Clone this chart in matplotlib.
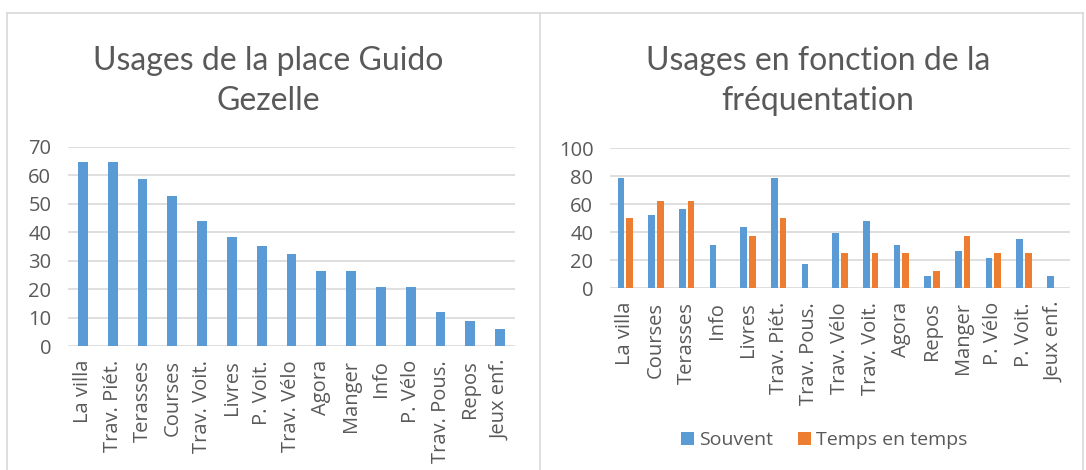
import matplotlib
matplotlib.use("Agg")
import matplotlib.pyplot as plt
from matplotlib.lines import Line2D
import numpy as np

# ---- data ----
left_categories = ["La villa", "Trav. Piét.", "Terasses", "Courses", "Trav. Voit.", "Livres",
                   "P. Voit.", "Trav. Vélo", "Agora", "Manger", "Info", "P. Vélo",
                   "Trav. Pous.", "Repos", "Jeux enf."]
left_values = [64.7, 64.7, 58.8, 52.9, 44.1, 38.2, 35.3, 32.4, 26.5, 26.5, 20.6, 20.6, 11.8, 8.8, 5.9]

right_categories = ["La villa", "Courses", "Terasses", "Info", "Livres", "Trav. Piét.",
                    "Trav. Pous.", "Trav. Vélo", "Trav. Voit.", "Agora", "Repos", "Manger",
                    "P. Vélo", "P. Voit.", "Jeux enf."]
souvent = [78.3, 52.2, 56.5, 30.4, 43.5, 78.3, 17.4, 39.1, 47.8, 30.4, 8.7, 26.1, 21.7, 34.8, 8.7]
temps = [50.0, 62.5, 62.5, 0, 37.5, 50.0, 0, 25.0, 25.0, 25.0, 12.5, 37.5, 25.0, 25.0, 0]

left_title = "Usages de la place Guido\nGezelle"
right_title = "Usages en fonction de la\nfréquentation"
left_yticks = [0, 10, 20, 30, 40, 50, 60, 70]
right_yticks = [0, 20, 40, 60, 80, 100]

BLUE = "#5B9BD5"
ORANGE = "#ED7D31"
GRID = "#D9D9D9"
TXT = "#595959"

plt.rcParams['font.family'] = ['Open Sans', 'DejaVu Sans']

W, H = 1086, 470
fig = plt.figure(figsize=(W / 100, H / 100), dpi=100)

def fx(px):
    return px / W

def fy(py):
    return 1 - py / H

# panel borders
for (x0, y0, x1, y1) in [(7, 13, 1083, 13), (7, 13, 7, 470), (540, 13, 540, 470), (1083, 13, 1083, 470)]:
    fig.add_artist(Line2D([fx(x0), fx(x1)], [fy(y0), fy(y1)], color=GRID, lw=1.2,
                          transform=fig.transFigure))

def style_axes(ax, yticks):
    for s in ax.spines.values():
        s.set_visible(False)
    ax.set_yticks(yticks)
    ax.set_ylim(yticks[0], yticks[-1])
    ax.yaxis.grid(True, color=GRID, lw=1.2)
    ax.set_axisbelow(True)
    ax.tick_params(axis='both', length=0, labelsize=14.5, colors=TXT)
    ax.tick_params(axis='y', pad=12)
    ax.tick_params(axis='x', pad=10)

# left chart
axL = fig.add_axes([fx(68), fy(346), fx(515) - fx(68), fy(147) - fy(346)])
xl = np.arange(len(left_categories))
axL.bar(xl, left_values, width=0.33, color=BLUE)
axL.set_xlim(-0.5, len(left_categories) - 0.5)
style_axes(axL, left_yticks)
axL.set_xticks(xl)
axL.set_xticklabels(left_categories, rotation=90, va='top', ha='center')

# right chart
axR = fig.add_axes([fx(610), fy(288), fx(1070) - fx(610), fy(148) - fy(288)])
xr = np.arange(len(right_categories))
w = 0.22
axR.bar(xr - 0.14, souvent, width=w, color=BLUE, label="Souvent")
axR.bar(xr + 0.14, temps, width=w, color=ORANGE, label="Temps en temps")
axR.set_xlim(-0.5, len(right_categories) - 0.5)
style_axes(axR, right_yticks)
axR.set_xticks(xr)
axR.set_xticklabels(right_categories, rotation=90, va='top', ha='center')

# titles
fig.text(fx(268), fy(81), left_title, ha='center', va='center', fontsize=23,
         color=TXT, family=['Lato', 'DejaVu Sans'], linespacing=1.38)
fig.text(fx(818), fy(81), right_title, ha='center', va='center', fontsize=23,
         color=TXT, family=['Lato', 'DejaVu Sans'], linespacing=1.38)

# legend
fig.legend(handles=[axR.containers[0], axR.containers[1]],
           labels=["Souvent", "Temps en temps"], loc='center',
           bbox_to_anchor=(fx(824), fy(440)), ncol=2, frameon=False,
           fontsize=14, handlelength=0.67, handleheight=0.67, handletextpad=0.26,
           columnspacing=1.3, labelcolor=TXT, borderpad=0)

fig.savefig("out.png", dpi=100)
